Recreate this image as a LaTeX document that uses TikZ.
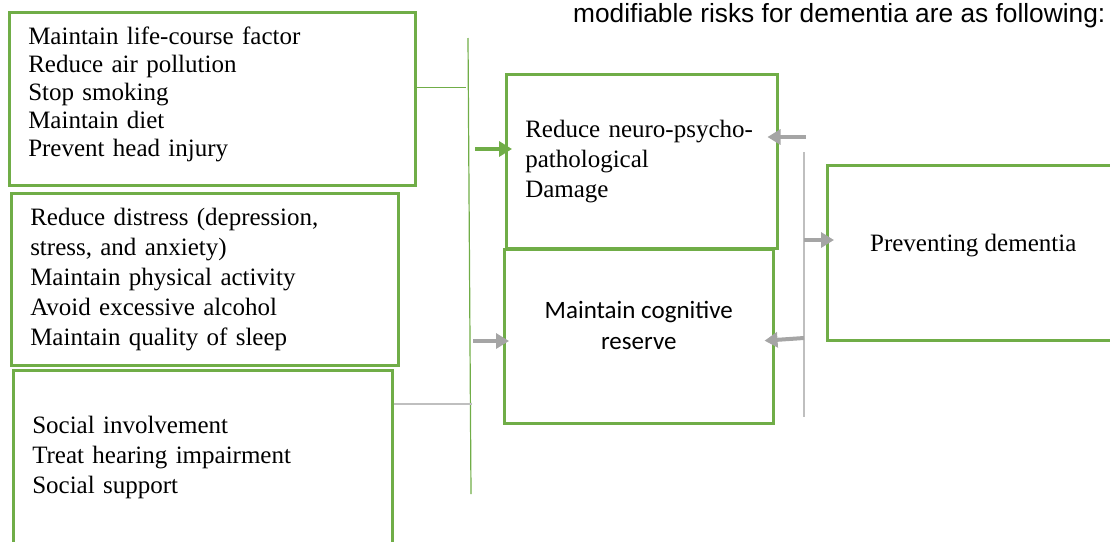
\documentclass[tikz,border=0pt]{standalone}
\usepackage{fontspec}
\setmainfont{Liberation Serif}
\newfontfamily\headfont{Liberation Sans}
\newfontfamily\calfont{Carlito}
\usetikzlibrary{arrows.meta, positioning}
\definecolor{boxgreen}{RGB}{112, 173, 71}
\definecolor{arrowgray}{RGB}{165, 165, 165}
\definecolor{linegray}{RGB}{191, 191, 191}

\begin{document}
\begin{tikzpicture}[
    x=1pt, y=-1pt,
    box/.style={draw=boxgreen, line width=2.5pt, anchor=north west, inner xsep=19pt, inner ysep=0pt, align=left, font={\fontsize{25}{30}\selectfont}},
    garrow/.style={draw=arrowgray, line width=4pt, -{Triangle[length=13pt, width=15pt]}},
    greenarrow/.style={draw=boxgreen, line width=4pt, -{Triangle[length=13pt, width=15pt]}},
    greenline/.style={draw=boxgreen, line width=1.2pt},
    grayline/.style={draw=linegray, line width=1.5pt}
]
\useasboundingbox (0,0) rectangle (1110,541);

% Title
\node[anchor=base west, inner sep=0pt, font={\headfont\fontsize{26.3}{30}\selectfont}] (title) at (573,22) {modifiable risks for dementia are as following:};

% Risk factor boxes
\node[box, text width=368pt, minimum height=173pt, font={\fontsize{25}{28}\selectfont}, execute at end node={\vspace{8pt}}] (lifecourse) at (8,11) {Maintain life-course factor\\Reduce air pollution\\Stop smoking\\Maintain diet\\Prevent head injury};
\node[box, text width=349pt, minimum height=172pt] (distress) at (10,192) {Reduce distress (depression,\\stress, and anxiety)\\Maintain physical activity\\Avoid excessive alcohol\\Maintain quality of sleep};
\node[box, text width=341pt, minimum height=174pt] (social) at (12,369) {Social involvement\\Treat hearing impairment\\Social support};

% Middle boxes
\node[box, text width=233pt, minimum height=174pt] (damage) at (505,73) {Reduce neuro-psycho-\\pathological\\Damage};
\node[box, minimum width=269pt, minimum height=174pt] (reserve) at (503,248) {};
\node[align=center, inner sep=0pt, font={\calfont\fontsize{25}{31}\selectfont}] (reservetext) at ([yshift=11pt]reserve.center) {Maintain cognitive\\reserve};

% Outcome box
\node[box, minimum width=292pt, minimum height=175pt] (prevent) at (826,164) {};
\node[inner sep=0pt, font={\fontsize{25}{30}\selectfont}] (preventtext) at ([yshift=7pt]prevent.center) {Preventing dementia};

% Left bar and links
\coordinate (bartop) at (468,38);
\coordinate (barbot) at (471,494);
\coordinate (hookA) at (466,87);
\coordinate (hookC) at (472,404);
\coordinate (gfrom) at (475,149);
\coordinate (lfrom) at (473,341);
\draw[greenline] (bartop) -- (barbot);
\draw[greenline, line width=1pt] (lifecourse.east |- hookA) -- (hookA);
\draw[grayline] (social.east |- hookC) -- (hookC);
\draw[greenarrow, shorten >=-7pt] (gfrom) -- (gfrom -| damage.west);
\draw[garrow, shorten >=-6pt] (lfrom) -- (lfrom -| reserve.west);

% Right bar and links
\coordinate (vtop) at (804,152);
\coordinate (vbot) at (804,417);
\coordinate (rtop) at (806,137);
\coordinate (rbot) at (804,338);
\coordinate (vmid) at (804,240);
\draw[grayline] (vtop) -- (vbot);
\draw[garrow, shorten >=-11pt] (rtop) -- (rtop -| damage.east);
\draw[garrow, shorten >=-10pt] (rbot) -- ([yshift=-2pt]rbot -| reserve.east);
\draw[garrow, shorten >=-8pt] (vmid) -- (vmid -| prevent.west);
\end{tikzpicture}
\end{document}
